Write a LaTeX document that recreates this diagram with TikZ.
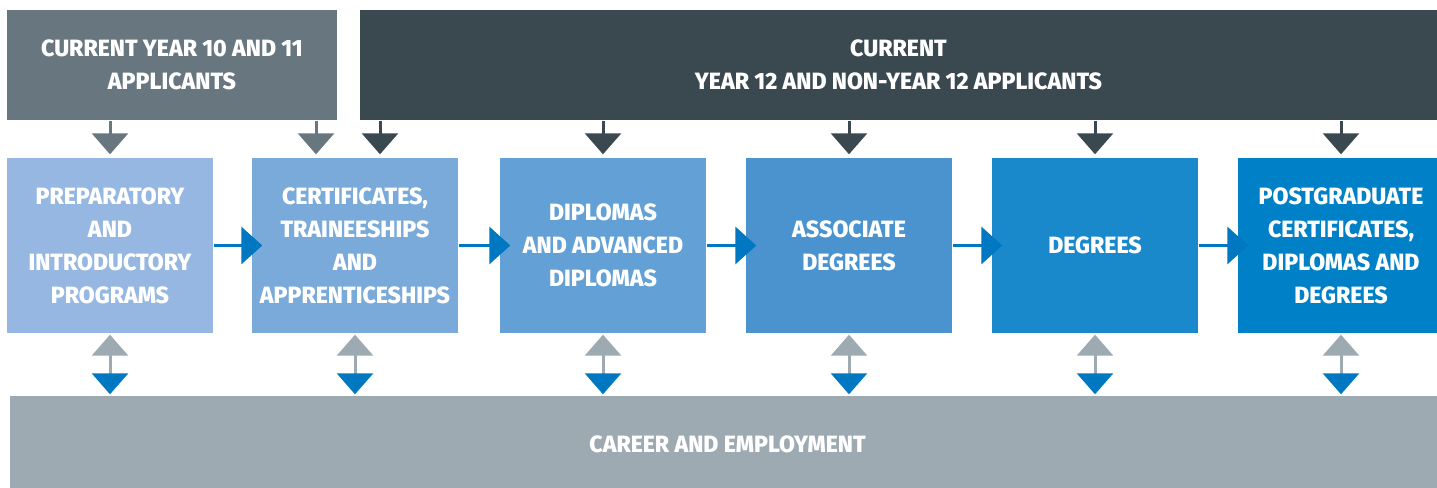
\documentclass[tikz,border=0pt]{standalone}
\usepackage{fontspec}
\setmainfont{Fira Sans}[BoldFont={Fira Sans ExtraBold}, FakeStretch=0.98]
\usetikzlibrary{arrows.meta}
\definecolor{appten}{HTML}{68777F}
\definecolor{apptwelve}{HTML}{3A4850}
\definecolor{careergray}{HTML}{9EAAB1}
\definecolor{arrowblue}{HTML}{0078C1}
\definecolor{stageA}{HTML}{95B7E1}
\definecolor{stageB}{HTML}{7AAADA}
\definecolor{stageC}{HTML}{63A0D5}
\definecolor{stageD}{HTML}{4A93CE}
\definecolor{stageE}{HTML}{1A89CC}
\definecolor{stageF}{HTML}{0080C6}
\tikzset{
  lbl/.style={text=white, align=center, inner sep=0pt,
    font=\bfseries\fontsize{6.7}{9.4}\selectfont},
  stage/.style={lbl, rectangle, minimum width=20.6mm, minimum height=17.5mm},
  downarrow/.style={line width=0.3mm, -{Triangle[width=3.6mm,length=2.1mm]}, shorten >=0.3mm},
  nextarrow/.style={arrowblue, line width=0.35mm, -{Triangle[width=3.7mm,length=2.1mm]}, shorten >=-1.1mm},
  bothway/.style={careergray, line width=0.3mm,
    {Triangle[width=3.6mm,length=2.1mm]}-{Triangle[width=3.6mm,length=2.1mm,color=arrowblue,fill=arrowblue]},
    shorten <=0.1mm, shorten >=0.1mm}
}
\begin{document}
\begin{tikzpicture}[x=0.1mm,y=-0.1mm]
    \useasboundingbox (0,0) rectangle (1437,488);
    % applicant groups
    \node[lbl, fill=appten, minimum width=33mm, minimum height=11mm] (app10) at (172,65) {CURRENT YEAR 10 AND 11\\APPLICANTS};
    \node[lbl, fill=apptwelve, minimum width=107.7mm, minimum height=11mm] (app12) at (898.5,65) {CURRENT\\YEAR 12 AND NON-YEAR 12 APPLICANTS};
    % study levels
    \node[stage, fill=stageA] (s1) at (110,245.5) {PREPARATORY\\AND\\INTRODUCTORY\\PROGRAMS};
    \node[stage, fill=stageB] (s2) at (355,245.5) {CERTIFICATES,\\TRAINEESHIPS\\AND\\APPRENTICESHIPS};
    \node[stage, fill=stageC] (s3) at (603,245.5) {DIPLOMAS\\AND ADVANCED\\DIPLOMAS};
    \node[stage, fill=stageD] (s4) at (849,245.5) {ASSOCIATE\\DEGREES};
    \node[stage, fill=stageE] (s5) at (1095,245.5) {DEGREES};
    \node[stage, fill=stageF] (s6) at (1341,245.5) {POSTGRADUATE\\CERTIFICATES,\\DIPLOMAS AND\\DEGREES};
    \node[lbl, fill=careergray, minimum width=143.5mm, minimum height=9.6mm] (career) at (727.5,444) {CAREER AND EMPLOYMENT};
    % entry arrows
    \draw[downarrow, appten] (app10.south -| s1.north) -- (s1.north);
    \draw[downarrow, appten] ([xshift=-3.9mm]app10.south -| s2.north) -- ([xshift=-3.9mm]s2.north);
    \draw[downarrow, apptwelve] ([xshift=2.5mm]app12.south -| s2.north) -- ([xshift=2.5mm]s2.north);
    \foreach \s in {s3,s4,s5,s6}
      \draw[downarrow, apptwelve] (app12.south -| \s.north) -- (\s.north);
    % pathway arrows
    \draw[nextarrow] (s1) -- (s2);
    \draw[nextarrow] (s2) -- (s3);
    \draw[nextarrow] (s3) -- (s4);
    \draw[nextarrow] (s4) -- (s5);
    \draw[nextarrow] (s5) -- (s6);
    % career links
    \foreach \s in {s1,s2,s3,s4,s5,s6}
      \draw[bothway] (\s.south) -- (\s.south |- career.north);
\end{tikzpicture}
\end{document}
